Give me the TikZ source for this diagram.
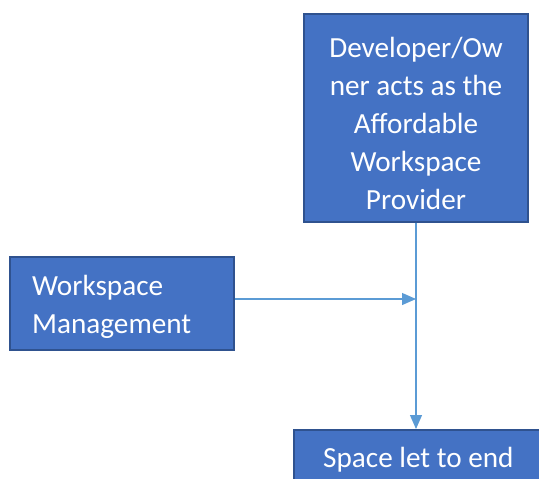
\documentclass[tikz,border=0pt]{standalone}
\usepackage{fontspec}
\setmainfont{Carlito}
\usetikzlibrary{arrows.meta}
\definecolor{boxfill}{HTML}{4472C4}
\definecolor{boxline}{HTML}{2F528F}
\definecolor{conn}{HTML}{5B9BD5}
\tikzset{
  boxnode/.style={draw=boxline, fill=boxfill, line width=1.5pt, inner sep=0pt},
  boxtext/.style={text=white, font=\fontsize{29.2}{38}\selectfont, inner sep=0pt},
  connline/.style={draw=conn, line width=1.2pt, -{Triangle[length=14pt,width=12pt]}}
}
\begin{document}
\begin{tikzpicture}[x=1pt,y=-1pt]
\useasboundingbox (0,0) rectangle (539,479);
\clip (0,0) rectangle (539,479);
\node[boxnode, minimum width=224pt, minimum height=208pt] (dev) at (416,118) {};
\node[boxtext, align=center, anchor=base] (devtxt) at (416,209) {Developer/Ow\\ner acts as the\\Affordable\\Workspace\\Provider};
\node[boxnode, minimum width=224pt, minimum height=93pt] (wm) at (122,303.5) {};
\node[boxtext, align=left, anchor=base west] (wmtxt) at (32,333) {Workspace\\Management};
\node[boxnode, minimum width=260pt, minimum height=100pt, anchor=north west] (sp) at (293,429) {};
\node[boxtext, anchor=base west] (sptxt) at (323,467) {Space let to end};
\coordinate (join) at (416,299);
\coordinate (sptop) at (416,429);
\draw[connline] (dev.south) -- (sptop);
\draw[connline] (wm.east |- join) -- (join);
\end{tikzpicture}
\end{document}
